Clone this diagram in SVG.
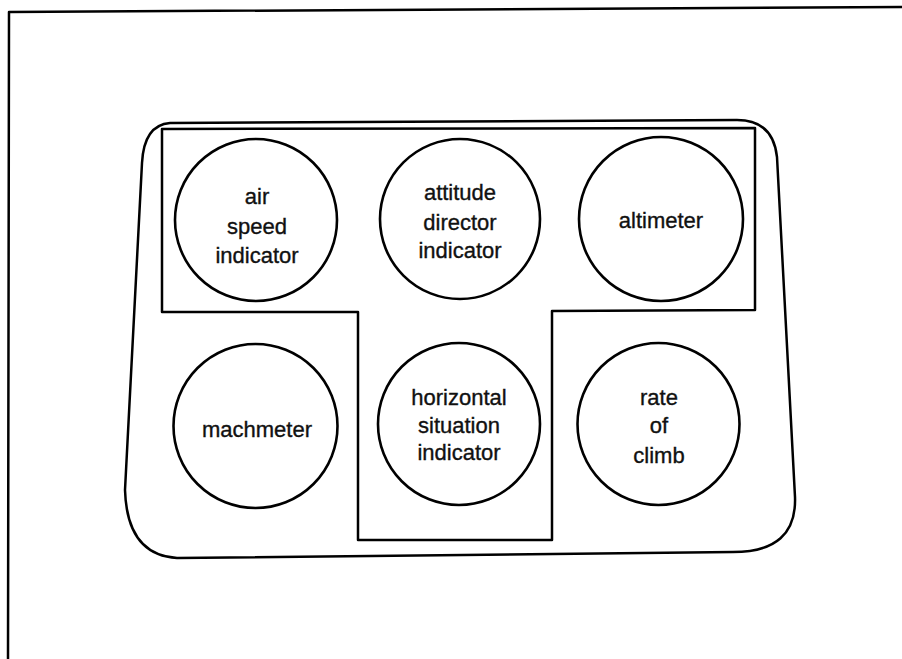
<svg xmlns="http://www.w3.org/2000/svg" width="902" height="659" viewBox="0 0 902 659">
<style>
.ln{fill:none;stroke:#000;stroke-width:2.5;stroke-linejoin:round}
.dial{fill:none;stroke:#000;stroke-width:2.6}
.lbl{font-family:"Liberation Sans",Arial,Helvetica,sans-serif;font-size:22px;fill:#111;stroke:#111;stroke-width:0.35;text-anchor:middle}
</style>
<rect width="902" height="659" fill="#fff"/>
<g id="frame">
<path class="ln" d="M 8 659 L 9 12 L 902 7" stroke-width="2.2"/>
</g>
<g id="panel">
<path class="ln" d="M 170 123 L 737 120 Q 773 120 777 157 L 795 497 Q 797 552 733 552 L 177 558 Q 127 555 125 490 L 142 163 Q 144 125 170 123 Z"/>
</g>
<g id="t-block">
<path class="ln" d="M 162 129 L 755 128 L 755 310 L 552 311 L 552 540 L 358 540 L 358 312 L 162 312 Z"/>
</g>
<g id="air-speed-indicator">
<circle class="dial" cx="256" cy="220" r="81"/>
<text class="lbl"><tspan x="257" y="204">air</tspan><tspan x="257" y="234">speed</tspan><tspan x="257" y="263">indicator</tspan></text>
</g>
<g id="attitude-director-indicator">
<circle class="dial" cx="460" cy="219" r="80"/>
<text class="lbl"><tspan x="460" y="200">attitude</tspan><tspan x="460" y="230">director</tspan><tspan x="460" y="258">indicator</tspan></text>
</g>
<g id="altimeter">
<circle class="dial" cx="661" cy="219" r="82"/>
<text class="lbl" x="661" y="228">altimeter</text>
</g>
<g id="machmeter">
<circle class="dial" cx="255.5" cy="426" r="82"/>
<text class="lbl" x="257" y="437">machmeter</text>
</g>
<g id="horizontal-situation-indicator">
<circle class="dial" cx="459" cy="424" r="81"/>
<text class="lbl"><tspan x="459" y="405">horizontal</tspan><tspan x="459" y="433">situation</tspan><tspan x="459" y="460">indicator</tspan></text>
</g>
<g id="rate-of-climb">
<circle class="dial" cx="658.5" cy="424" r="81"/>
<text class="lbl"><tspan x="659" y="405">rate</tspan><tspan x="659" y="433">of</tspan><tspan x="659" y="463">climb</tspan></text>
</g>
<g id="connectors"></g>
</svg>
